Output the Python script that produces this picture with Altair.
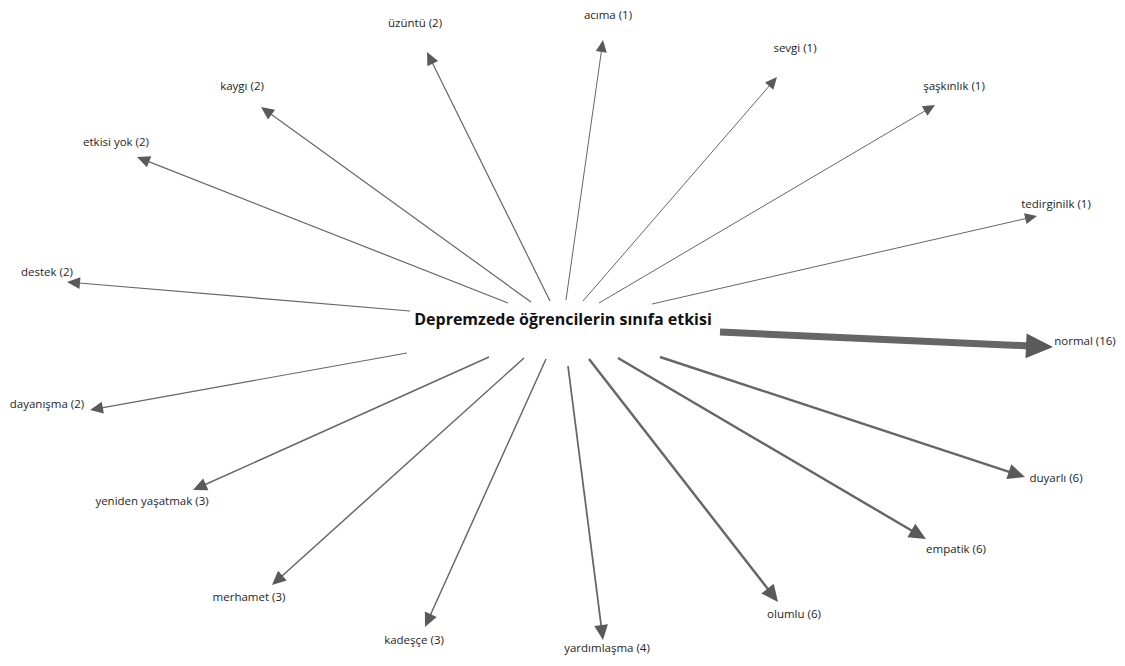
import math
import altair as alt
import pandas as pd

# ---- data ----
center_label = "Depremzede öğrencilerin sınıfa etkisi"
center_pos = (563, 320)

names = ["acıma", "sevgi", "şaşkınlık", "tedirginilk", "normal", "duyarlı",
         "empatik", "olumlu", "yardımlaşma", "kadeşçe", "merhamet",
         "yeniden yaşatmak", "dayanışma", "destek", "etkisi yok", "kaygı", "üzüntü"]
counts = [1, 1, 1, 1, 16, 6, 6, 6, 4, 3, 3, 3, 2, 2, 2, 2, 2]

# node layout (pixel positions of the original diagram)
start_x = [566, 583, 599, 652, 720, 660, 618, 589, 568, 546, 524, 489, 407, 410, 508, 531, 550]
start_y = [300, 301, 303, 304, 332, 357, 358, 359, 366, 359, 358, 357, 353, 311, 303, 302, 301]
tip_x = [603, 777, 935, 1037, 1053, 1025, 926, 778, 603, 425, 272, 193, 90, 67, 137, 261, 427]
tip_y = [40, 77, 105, 216, 347, 477, 539, 602, 640, 627, 585, 490, 410, 282, 157, 107, 52]
label_x = [608, 795, 954, 1056, 1085, 1056, 956, 794, 607, 414, 249, 152, 47, 47, 116, 242, 415]
label_y = [16, 49, 87, 205, 342, 479, 550, 615, 649, 641, 598, 502, 405, 273, 143, 87, 24]

rows = []
for n, c, sx, sy, tx, ty, lx, ly in zip(names, counts, start_x, start_y, tip_x, tip_y, label_x, label_y):
    dx, dy = tx - sx, ty - sy
    d = math.hypot(dx, dy)
    ux, uy = dx / d, dy / d
    head = 11 + c                      # arrow-head length grows with count
    ang = math.degrees(math.atan2(dx, -dy)) % 360
    rows.append(dict(name=n, count=c, label=f"{n} ({c})",
                     sx=sx, sy=sy,
                     ex=tx - ux * head * 0.7, ey=ty - uy * head * 0.7,
                     tx=tx, ty=ty, lx=lx, ly=ly,
                     ang=ang, hsize=(2 * head) ** 2))
df = pd.DataFrame(rows)
cdf = pd.DataFrame([{"x": center_pos[0], "y": center_pos[1], "t": center_label}])

W, H = 1109, 650
xs = alt.Scale(domain=[8, 8 + W], nice=False, zero=False)
ys = alt.Scale(domain=[8, 8 + H], nice=False, zero=False, reverse=True)

base = alt.Chart(df)

lines = base.mark_rule(color="#666666", strokeCap="butt").encode(
    x=alt.X("sx:Q", scale=xs, axis=None),
    y=alt.Y("sy:Q", scale=ys, axis=None),
    x2="ex:Q",
    y2="ey:Q",
    strokeWidth=alt.StrokeWidth("count:Q",
                                scale=alt.Scale(type="pow", exponent=1.4, domain=[1, 16], range=[1, 7]),
                                legend=None),
)

heads = base.mark_point(
    shape="M0,0 L-0.46,1 L0.46,1 Z", filled=True, opacity=1, color="#5a5a5a", strokeWidth=0
).encode(
    x=alt.X("tx:Q", scale=xs, axis=None),
    y=alt.Y("ty:Q", scale=ys, axis=None),
    angle=alt.Angle("ang:Q", scale=None),
    size=alt.Size("hsize:Q", scale=None, legend=None),
)

labels = base.mark_text(font="Open Sans", fontSize=11.5, color="#1e1e1e",
                        align="center", baseline="middle").encode(
    x=alt.X("lx:Q", scale=xs, axis=None),
    y=alt.Y("ly:Q", scale=ys, axis=None),
    text="label:N",
)

center = alt.Chart(cdf).mark_text(font="Open Sans", fontSize=16, fontWeight="bold",
                                  color="#111111", align="center", baseline="middle").encode(
    x=alt.X("x:Q", scale=xs, axis=None),
    y=alt.Y("y:Q", scale=ys, axis=None),
    text="t:N",
)

chart = alt.layer(lines, heads, labels, center).properties(
    width=W, height=H, padding=0, autosize=alt.AutoSizeParams(type="none")
).configure_view(stroke=None)

chart.save("out.html", embed_options={"renderer": "svg", "actions": False})
